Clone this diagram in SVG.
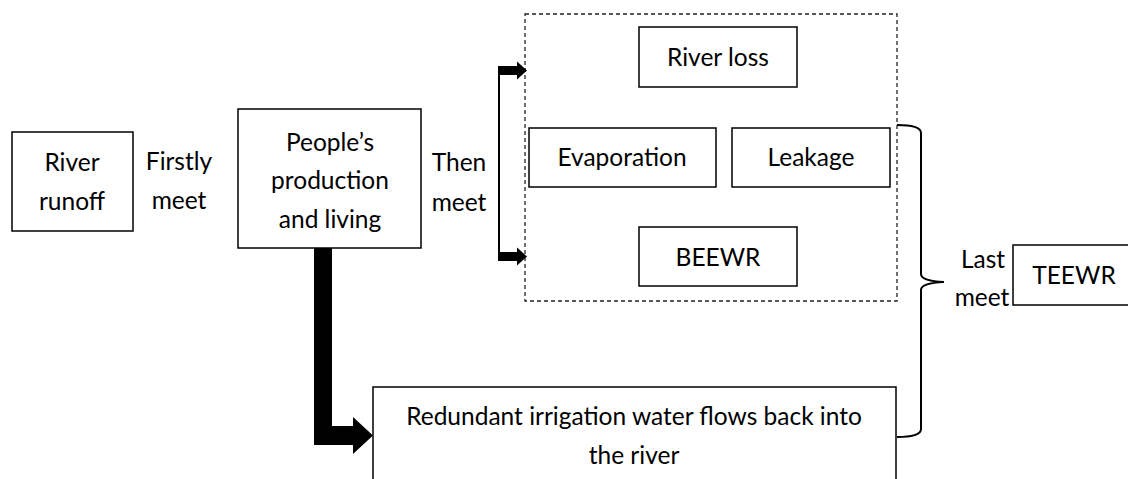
<svg xmlns="http://www.w3.org/2000/svg" width="1128" height="479" viewBox="0 0 1128 479">
<style>
.box{fill:#fff;stroke:#000;stroke-width:1.5}
.dash{fill:none;stroke:#222;stroke-width:1.3;stroke-dasharray:4 3}
text{font-family:Lato,"Open Sans",sans-serif;font-size:24.5px;fill:#000;text-anchor:middle}
.thin{fill:none;stroke:#000;stroke-width:2}
.solid{fill:#000;stroke:none}
</style>
<rect width="1128" height="479" fill="#fff"/>
<g id="group-losses"><rect class="dash" x="525" y="14" width="372" height="287"/></g>
<g id="river-runoff"><rect class="box" x="12" y="132" width="121" height="99"/><text x="72" y="171">River</text><text x="72" y="210">runoff</text></g>
<g id="label-firstly"><text x="179" y="170">Firstly</text><text x="179" y="209">meet</text></g>
<g id="people"><rect class="box" x="238" y="109" width="183" height="139"/><text x="330" y="151">People’s</text><text x="330" y="189">production</text><text x="330" y="228">and living</text></g>
<g id="label-then"><text x="459" y="171">Then</text><text x="459" y="211">meet</text></g>
<g id="river-loss"><rect class="box" x="639" y="27" width="158" height="60"/><text x="718" y="66">River loss</text></g>
<g id="evaporation"><rect class="box" x="529" y="128" width="187" height="59"/><text x="622" y="166">Evaporation</text></g>
<g id="leakage"><rect class="box" x="732" y="128" width="158" height="59"/><text x="811" y="166">Leakage</text></g>
<g id="beewr"><rect class="box" x="639" y="227" width="158" height="59"/><text x="718" y="266">BEEWR</text></g>
<g id="redundant"><rect class="box" x="373" y="387" width="523" height="110"/><text x="634" y="425">Redundant irrigation water flows back into</text><text x="634" y="464">the river</text></g>
<g id="label-last"><text x="983" y="268">Last</text><text x="982" y="306">meet</text></g>
<g id="teewr"><rect class="box" x="1013" y="245" width="120" height="60"/><text x="1074" y="284">TEEWR</text></g>
<g id="connectors">
<path class="thin" d="M499 70V257"/>
<rect class="solid" x="498" y="66" width="19" height="9"/>
<polygon class="solid" points="517,61.5 527,70.5 517,79.5"/>
<rect class="solid" x="498" y="252" width="19" height="9"/>
<polygon class="solid" points="517,247.5 527,256.5 517,265.5"/>
<polygon class="solid" points="314,248 332,248 332,426 353,426 353,417 373,435.5 353,454 353,445 314,445"/>
<path class="thin" d="M897 125Q921 125 921 133V274Q921 281 944 282Q921 283 921 290V429Q921 437 897 437"/>
</g>
</svg>
